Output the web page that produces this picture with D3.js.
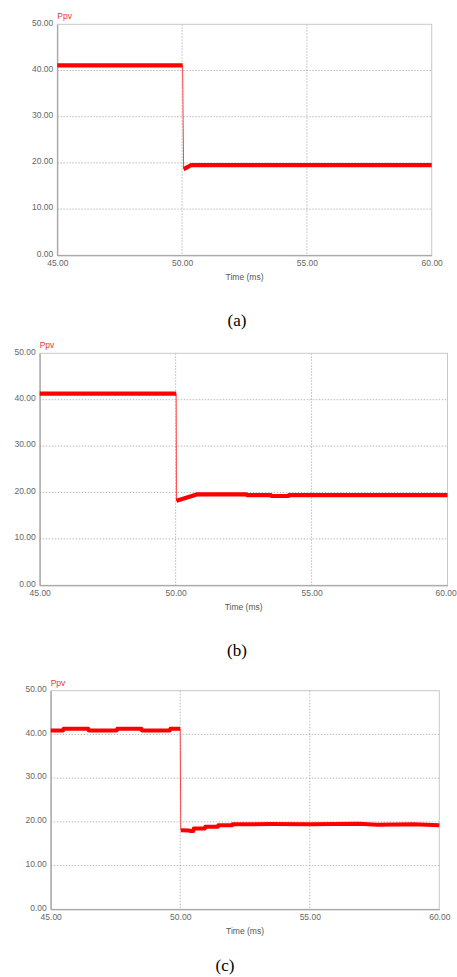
<!DOCTYPE html>
<html>
<head>
<meta charset="utf-8">
<script src="https://d3js.org/d3.v7.min.js"></script>
<style>
body { margin:0; background:#fff; }
.tick text { font-family: "Liberation Sans", Arial, sans-serif; font-size:8.5px; fill:#666; }
.lbl { font-family: "Liberation Sans", Arial, sans-serif; font-size:8.5px; fill:#555; }
.cap { font-family: "Liberation Serif", "Times New Roman", serif; font-size:17px; fill:#000; }
</style>
</head>
<body>
<script>
// axis ticks
var yTicks = [0, 10, 20, 30, 40, 50];
var xTicks = [45, 50, 55, 60];
var captions = ["(a)", "(b)", "(c)"];

// panel (a)
var tA_pre = [45.0, 50.02];
var vA_pre = [41.1, 41.1];
var tA_post = [50.06, 50.12, 50.35, 60.0];
var vA_post = [18.7, 18.8, 19.5, 19.5];

// panel (b)
var tB_pre = [45.0, 50.02];
var vB_pre = [41.3, 41.3];
var tB_post = [50.03, 50.3, 50.8, 52.6, 52.62, 53.5, 53.52, 54.15, 54.17, 60.0];
var vB_post = [18.2, 18.7, 19.6, 19.6, 19.45, 19.45, 19.25, 19.25, 19.45, 19.45];

// panel (c)
var tC_pre = [45.0, 45.48, 45.5, 46.45, 46.47, 47.55, 47.57, 48.5, 48.52, 49.6, 49.62, 50.0];
var vC_pre = [40.9, 40.9, 41.3, 41.3, 40.9, 40.9, 41.3, 41.3, 40.9, 40.9, 41.3, 41.3];
var tC_post = [50.02, 50.35, 50.37, 50.5, 50.52, 50.95, 50.97, 51.45, 51.47, 52.0, 52.02, 53.5, 55.0, 56.9, 57.6, 59.0, 60.0];
var vC_post = [18.1, 18.0, 17.9, 17.9, 18.5, 18.5, 18.9, 18.9, 19.2, 19.2, 19.45, 19.5, 19.45, 19.55, 19.35, 19.45, 19.25];

var series = [
  {pre: [tA_pre, vA_pre], post: [tA_post, vA_post]},
  {pre: [tB_pre, vB_pre], post: [tB_post, vB_post]},
  {pre: [tC_pre, vC_pre], post: [tC_post, vC_post]}
];

// pixel frames of the three plots
var frames = [
  {l: 57.3, r: 431.7, t: 24.3, b: 255.3, capX: 237, capY: 326, lw: 4.2},
  {l: 39.7, r: 447.5, t: 353.3, b: 585.3, capX: 237, capY: 656, lw: 4.2},
  {l: 50.7, r: 439.3, t: 690.7, b: 909.3, capX: 225, capY: 971, lw: 4.0}
];

var W = 457, H = 977;
var svg = d3.select("body").append("svg")
  .attr("width", W).attr("height", H);

function pts(arr) {
  return arr[0].map(function(t, i) { return [t, arr[1][i]]; });
}

frames.forEach(function(f, k) {
  var x = d3.scaleLinear().domain([45, 60]).range([f.l, f.r]);
  var y = d3.scaleLinear().domain([0, 50]).range([f.b, f.t]);
  var g = svg.append("g");

  // grid
  g.selectAll(".hg").data(yTicks.slice(1, -1)).enter().append("line")
    .attr("x1", f.l).attr("x2", f.r)
    .attr("y1", function(d) { return y(d); }).attr("y2", function(d) { return y(d); })
    .attr("stroke", "#aaa").attr("stroke-width", 0.8).attr("stroke-dasharray", "1.5,1.5");
  g.selectAll(".vg").data(xTicks.slice(1, -1)).enter().append("line")
    .attr("y1", f.t).attr("y2", f.b)
    .attr("x1", function(d) { return x(d); }).attr("x2", function(d) { return x(d); })
    .attr("stroke", "#aaa").attr("stroke-width", 0.8).attr("stroke-dasharray", "1.5,1.5");

  // frame
  g.append("rect").attr("x", f.l).attr("y", f.t)
    .attr("width", f.r - f.l).attr("height", f.b - f.t)
    .attr("fill", "none").attr("stroke", "#c8c8c8").attr("stroke-width", 1);

  // axes
  var ya = g.append("g").attr("transform", "translate(" + f.l + ",0)")
    .call(d3.axisLeft(y).tickValues(yTicks).tickSize(0).tickPadding(4).tickFormat(d3.format(".2f")));
  ya.select(".domain").attr("stroke", "#999");
  ya.selectAll(".tick text").attr("dy", "0.1em");
  var xa = g.append("g").attr("transform", "translate(0," + f.b + ")")
    .call(d3.axisBottom(x).tickValues(xTicks).tickSize(0).tickPadding(5).tickFormat(d3.format(".2f")));
  xa.select(".domain").attr("stroke", "#999");
  // keep the last label inside the window
  xa.selectAll(".tick text").each(function() {
    var bb = this.getBBox(), tx = this.parentNode.transform.baseVal.consolidate().matrix.e;
    var over = tx + bb.x + bb.width - W;
    if (over > 0) d3.select(this).attr("x", -over);
  });

  g.append("text").attr("class", "lbl").attr("x", (f.l + f.r) / 2).attr("y", f.b + 25)
    .attr("text-anchor", "middle").text("Time (ms)");
  g.append("text").attr("class", "lbl").attr("x", f.l).attr("y", f.t - 5)
    .style("fill", "#e33").text("Ppv");
  g.append("text").attr("class", "cap").attr("x", f.capX).attr("y", f.capY)
    .attr("text-anchor", "middle").text(captions[k]);

  // data
  var s = series[k];
  var pre = pts(s.pre), post = pts(s.post);
  var line = d3.line().x(function(d) { return x(d[0]); }).y(function(d) { return y(d[1]); });
  g.append("path").datum([pre[pre.length - 1], post[0]]).attr("d", line)
    .attr("fill", "none").attr("stroke", "#f44").attr("stroke-width", 1);
  [pre, post].forEach(function(p) {
    g.append("path").datum(p).attr("d", line)
      .attr("fill", "none").attr("stroke", "#f00").attr("stroke-width", f.lw)
      .attr("stroke-linejoin", "round");
  });
});
</script>
</body>
</html>
